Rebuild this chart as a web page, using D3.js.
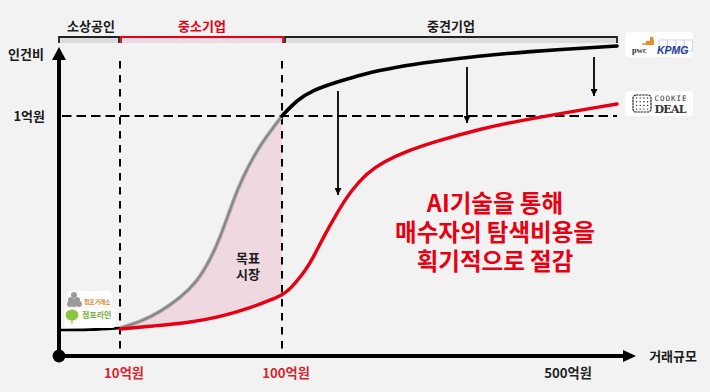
<!DOCTYPE html>
<html><head><meta charset="utf-8">
<script src="https://cdn.jsdelivr.net/npm/d3@7"></script>
<style>html,body{margin:0;padding:0;background:#f2f2f2}svg{display:block}text{font-family:"Noto Sans CJK KR","Noto Sans",sans-serif}</style>
</head><body><svg id="c" width="710" height="392"></svg>
<script>
// values, in axis units (x: scale position, y: cost level)
const incumbentX=[1,31,61,81,101,121,138,151,161,171,179,189,201,223,238,254,278,304,338,371,421,463,558];
const incumbentY=[26,26,28,34,44,58,74,96,118,146,168,189,211,240,256,266,274,282,289,294,300,304,310];
const dealX=[61,94,128,161,194,214,223,231,238,246,254,264,278,291,308,324,348,378,421,463,558];
const dealY=[27,30,33,39,49,57,61,67,75,85,98,118,143,164,183,194,205,215,227,236,252];
const regionNames=["소상공인","중소기업","중견기업"];
const regionStart=[0,62,226];
const regionEnd=[60,224,558];
const regionColors=["#222222","#e60012","#222222"];
const regionFills=["#dcdcdc","#f0d8e0","#dcdcdc"];
const xTickLabels=["10억원","100억원","500억원"];
const xTickValues=[61,223,505];
const xTickColors=["#d8232f","#d8232f","#222222"];
const yTickLabel="1억원";
const yTickValue=240;
const dropX=[279,408,535];
const dropFrom=[265,289,299];
const dropTo=[161,233,260];
const headline=["AI기술을 통해","매수자의 탐색비용을","획기적으로 절감"];
const targetLabel=["목표","시장"];

const svg=d3.select("#c");
const x=d3.scaleLinear().domain([0,561]).range([59,620]);
const y=d3.scaleLinear().domain([0,309]).range([356,47]);
const pts=(a,b)=>a.map((v,i)=>[v,b[i]]);
const line=d3.line().x(d=>x(d[0])).y(d=>y(d[1])).curve(d3.curveBasis);
const inc=pts(incumbentX,incumbentY), deal=pts(dealX,dealY);
const dark="#000";

const defs=svg.append("defs");
defs.append("marker").attr("id","drop").attr("viewBox","0 0 7 7").attr("refX",7).attr("refY",3.5)
 .attr("markerWidth",7).attr("markerHeight",7).attr("markerUnits","userSpaceOnUse").attr("orient","auto")
 .append("path").attr("d","M0,0L7,3.5L0,7Z").attr("fill",dark);

// target-market fill
const a0=inc.filter(d=>d[0]>=61&&d[0]<=223);
const b0=deal.filter(d=>d[0]<=231).slice().reverse();
const sample=(points,n)=>{const p=document.createElementNS("http://www.w3.org/2000/svg","path");
  p.setAttribute("d",line(points));const L=p.getTotalLength();return d3.range(n+1).map(i=>{const q=p.getPointAtLength(L*i/n);return [q.x,q.y];});};
svg.append("clipPath").attr("id","toMid").append("rect").attr("x",0).attr("y",0).attr("width",x(223)).attr("height",392);
svg.append("path").attr("clip-path","url(#toMid)").attr("d","M"+sample(a0,80).concat([[x(231),y(240)]]).concat(sample(b0,80)).map(d=>d.join(",")).join("L")+"Z").attr("fill","#f0d8e0");

// region brackets
regionNames.forEach((n,i)=>{
  const x0=x(regionStart[i]),x1=x(regionEnd[i]);
  svg.append("rect").attr("x",x0).attr("y",37).attr("width",x1-x0).attr("height",6).attr("fill",regionFills[i]);
  svg.append("path").attr("d",`M${x0},43V37H${x1}V43`).attr("fill","none").attr("stroke",regionColors[i]).attr("stroke-width",1.8);
  svg.append("text").attr("x",(x0+x1)/2+(i==0?2:0)).attr("y",30.5).attr("text-anchor","middle").attr("font-size",13).attr("font-weight",700)
    .attr("fill",i==1?"#e60012":"#1a1a1a").text(n);
});

// dashed guides
const dl=(x1,y1,x2,y2,pat)=>svg.append("line").attr("x1",x1).attr("y1",y1).attr("x2",x2).attr("y2",y2)
  .attr("stroke",dark).attr("stroke-width",2).attr("stroke-dasharray",pat);
dl(x(61),61,x(61),353,"7.5 6.5");
dl(x(223),61,x(223),353,"7.5 6.5");
dl(x(0)+3,y(yTickValue),x(558),y(yTickValue),"9.5 5");

// curves
const upTo=inc.filter(d=>d[0]<=61), mid=a0, tail=inc.filter(d=>d[0]>=223);
svg.append("path").attr("d",line(mid)).attr("fill","none").attr("stroke","#a5a5a5").attr("stroke-width",3.8);
svg.append("path").attr("d",line(mid)).attr("fill","none").attr("stroke","#808080").attr("stroke-width",1.4);
svg.append("path").attr("d",line(upTo)).attr("fill","none").attr("stroke",dark).attr("stroke-width",2.6);
svg.append("path").attr("d",line(tail)).attr("fill","none").attr("stroke",dark).attr("stroke-width",3.6).attr("stroke-linecap","round");
svg.append("path").attr("d",line(deal)).attr("fill","none").attr("stroke","#e60012").attr("stroke-width",3.4).attr("stroke-linecap","round");

// drop arrows
dropX.forEach((d,i)=>svg.append("line").attr("x1",x(d)).attr("x2",x(d)).attr("y1",y(dropFrom[i])).attr("y2",y(dropTo[i]))
  .attr("stroke",dark).attr("stroke-width",1.8).attr("marker-end","url(#drop)"));

// axes
svg.append("line").attr("x1",59).attr("x2",59).attr("y1",356).attr("y2",60).attr("stroke",dark).attr("stroke-width",4);
svg.append("path").attr("d","M52,60L59,47L66,60Z").attr("fill",dark);
svg.append("line").attr("x1",59).attr("x2",624).attr("y1",356).attr("y2",356).attr("stroke",dark).attr("stroke-width",4);
svg.append("path").attr("d","M623,350L636,356L623,362Z").attr("fill",dark);
svg.append("circle").attr("cx",59).attr("cy",356).attr("r",6.5).attr("fill",dark);

// axis labels
const label=(t,px,py,size,col,anchor="middle",w=700)=>svg.append("text").attr("x",px).attr("y",py).attr("font-size",size)
  .attr("font-weight",w).attr("fill",col).attr("text-anchor",anchor).text(t);
label("인건비",44,59,13,"#1a1a1a","end");
label(yTickLabel,45,121,13,"#1a1a1a","end");
label("거래규모",697,361,13,"#1a1a1a","end");
xTickLabels.forEach((t,i)=>label(t,x(xTickValues[i])+4,378,13.2,xTickColors[i]));

const block=(lines,px,py,dy,size,col)=>{const t=svg.append("text").attr("text-anchor","middle").attr("font-size",size).attr("font-weight",700).attr("fill",col);
  lines.forEach((s,i)=>t.append("tspan").attr("x",px).attr("y",py+i*dy).text(s));};
block(targetLabel,248,263,16,13,"#1a1a1a");
block(headline,495,212,29,23.5,"#e60012");

// logos
const card=(px,py,w,h)=>svg.append("rect").attr("x",px).attr("y",py).attr("width",w).attr("height",h).attr("rx",4).attr("fill","#fff");
card(625,32,68,25); card(625,91,68,25);
svg.append("text").attr("x",632).attr("y",53).attr("font-size",8.5).attr("font-weight",700).attr("fill","#333").style("font-family","'Liberation Serif'").text("pwc");
svg.append("path").attr("d","M646,45V41L650,41V37H653L654,41V45Z").attr("fill","#e0912b");
svg.append("path").attr("d","M642,44H646").attr("stroke","#d04a02").attr("stroke-width",1);
d3.range(4).forEach(i=>svg.append("rect").attr("x",659+i*8.4).attr("y",40).attr("width",8.4).attr("height",11).attr("fill","none").attr("stroke","#c5cbe0").attr("stroke-width",.8));
svg.append("text").attr("x",657).attr("y",54).attr("font-size",10.5).attr("font-weight",700).attr("font-style","italic").attr("fill","#1e3c96").style("font-family","'Liberation Sans'").text("KPMG");
svg.append("rect").attr("x",633).attr("y",95).attr("width",18).attr("height",17).attr("rx",3).attr("fill","none").attr("stroke","#222").attr("stroke-width",1.2).attr("stroke-dasharray","2.5 .6");
d3.range(4).forEach(r=>d3.range(4).forEach(c=>svg.append("circle").attr("cx",636.5+c*3.7).attr("cy",98+r*3.7).attr("r",.7).attr("fill","#222")));
svg.append("text").attr("x",654.5).attr("y",100.5).attr("font-size",7.5).attr("fill","#333").style("font-family","'DejaVu Sans Mono'").attr("textLength",32).text("COOKIE");
svg.append("text").attr("x",654.5).attr("y",112.5).attr("font-size",11).attr("font-weight",700).attr("fill","#333").style("font-family","'DejaVu Serif'").attr("textLength",32).text("DEAL");

card(67,291,45,16); card(64,308,52,20);
[[74,295],[71,300],[77,300],[74,304],[70,304],[79,304]].forEach(p=>svg.append("circle").attr("cx",p[0]).attr("cy",p[1]).attr("r",3).attr("fill","#9a9a9a"));
svg.append("text").attr("x",84).attr("y",303.5).attr("font-size",5.8).attr("font-weight",700).attr("fill","#d9822b").text("점포거래소");
svg.append("ellipse").attr("cx",72).attr("cy",315).attr("rx",6.5).attr("ry",5.5).attr("fill","#8cc63f");
svg.append("path").attr("d","M72,319V324").attr("stroke","#8cc63f").attr("stroke-width",1.2);
svg.append("text").attr("x",82).attr("y",318).attr("font-size",8).attr("font-weight",700).attr("fill","#6fae3a").text("점포라인");
</script></body></html>
